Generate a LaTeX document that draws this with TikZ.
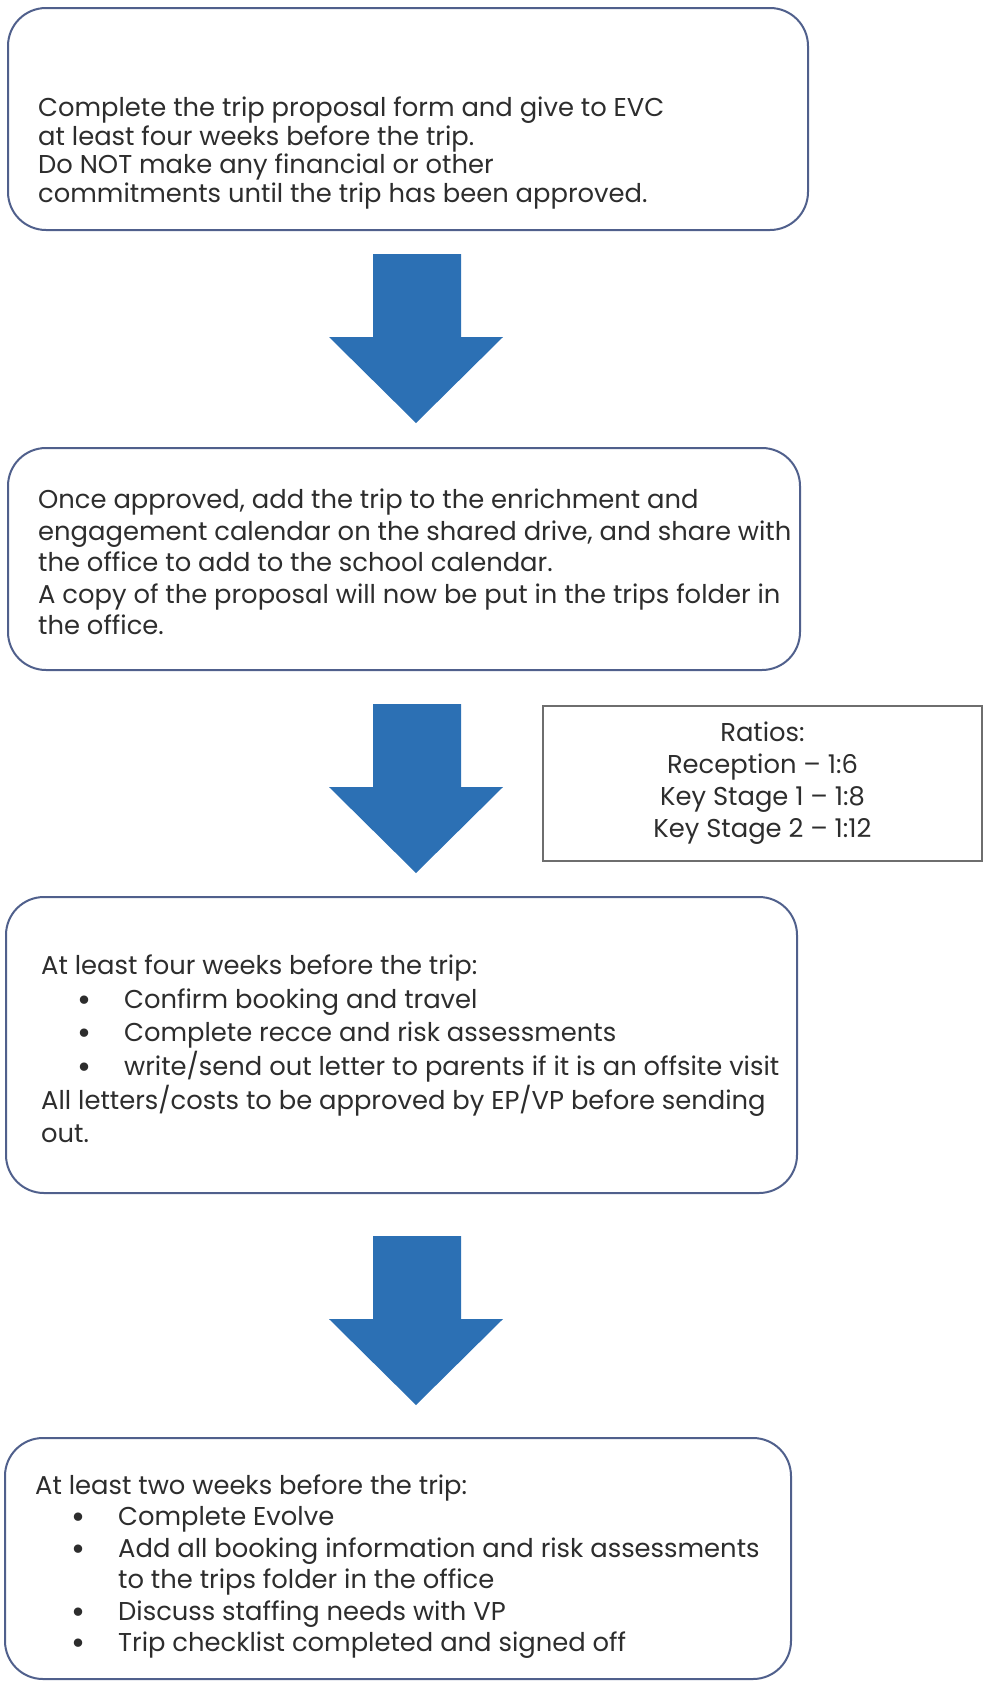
\documentclass[tikz,border=0pt]{standalone}
\usepackage{fontspec}
\setmainfont{Poppins}
\usetikzlibrary{positioning}

\definecolor{boxline}{RGB}{80,96,140}
\definecolor{arrowblue}{RGB}{44,112,180}
\definecolor{ratioline}{RGB}{110,110,110}
\definecolor{textgrey}{RGB}{45,45,45}

\tikzset{
  tripbox/.style={draw=boxline, line width=2pt, rounded corners=38pt, fill=white},
  triptext/.style={align=left, text=textgrey, inner sep=0pt},
  ratiobox/.style={draw=ratioline, line width=2pt, align=center, text=textgrey,
    font=\fontsize{25.8}{32}\selectfont},
}
\newcommand{\tripfont}[1]{\fontsize{25.8}{#1}\selectfont}
\newcommand{\tripitem}{\hspace*{36pt}\makebox[47pt][l]{\raisebox{-3pt}{\smash{\fontsize{34}{0}\selectfont •}}}}
\newcommand{\tripcont}{\hspace*{83pt}}

\begin{document}
\begin{tikzpicture}[x=1pt,y=-1pt]

% page, in pixels of the scan
\useasboundingbox (0,0) rectangle (984,1681);

% the four steps
\node[tripbox, minimum width=800pt, minimum height=222pt] (propose) at (408,119) {};
\node[tripbox, minimum width=792pt, minimum height=222pt] (approved) at (404,559) {};
\node[tripbox, minimum width=791pt, minimum height=296pt] (fourweeks) at (401.5,1045) {};
\node[tripbox, minimum width=786pt, minimum height=241pt] (twoweeks) at (398,1558.5) {};

\node[triptext, font=\tripfont{28.6}, right=31pt of propose.west, yshift=-34pt] (proposetxt) {%
Complete the trip proposal form and give to EVC\\
at least four weeks before the trip.\\
Do NOT make any financial or other\\
commitments until the trip has been approved.};

\node[triptext, font=\tripfont{31.6}, right=31pt of approved.west, yshift=-3pt] (approvedtxt) {%
Once approved, add the trip to the enrichment and\\
engagement calendar on the shared drive, and share with\\
the office to add to the school calendar.\\
A copy of the proposal will now be put in the trips folder in\\
the office.};

\node[triptext, font=\tripfont{33.6}, right=36pt of fourweeks.west, yshift=-4pt] (fourweekstxt) {%
At least four weeks before the trip:\\
\tripitem Confirm booking and travel\\
\tripitem Complete recce and risk assessments\\
\tripitem write/send out letter to parents if it is an offsite visit\\
All letters/costs to be approved by EP/VP before sending\\
out.};

\node[triptext, font=\tripfont{31.5}, right=31pt of twoweeks.west, yshift=-8pt] (twoweekstxt) {%
At least two weeks before the trip:\\
\tripitem Complete Evolve\\
\tripitem Add all booking information and risk assessments\\
\tripcont to the trips folder in the office\\
\tripitem Discuss staffing needs with VP\\
\tripitem Trip checklist completed and signed off};

% ratios aside
\node[ratiobox, minimum width=439pt, minimum height=155pt] (ratios) at (762.5,783.5) {%
Ratios:\\
Reception – 1:6\\
Key Stage 1 – 1:8\\
Key Stage 2 – 1:12};

% block arrows between the steps
\foreach \top in {254,704,1236}
    \fill[arrowblue] (373,\top) -- (461,\top) -- (461,\top+83) -- (503,\top+83)
        -- (416,\top+169) -- (329,\top+83) -- (373,\top+83) -- cycle;

\end{tikzpicture}
\end{document}
